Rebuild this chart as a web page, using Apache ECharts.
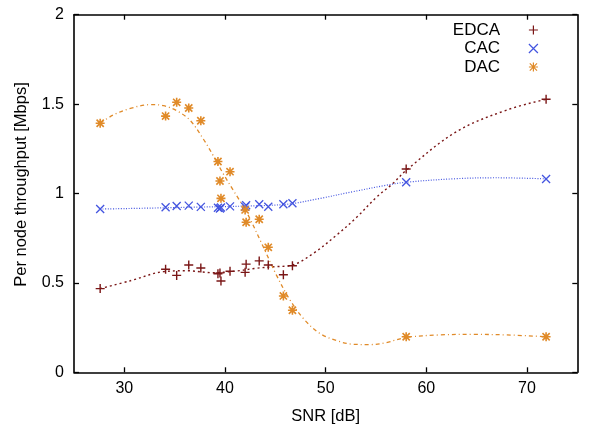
<!DOCTYPE html>
<html>
<head>
<meta charset="utf-8">
<script src="https://cdn.jsdelivr.net/npm/echarts@6/dist/echarts.min.js"></script>
<style>
html,body{margin:0;padding:0;background:#fff;}
#chart{width:589px;height:427px;}
</style>
</head>
<body>
<div id="chart"></div>
<script>
// ---- data ----
var snr = [27.6, 34.1, 35.2, 36.4, 37.6, 39.3, 39.5, 39.6, 40.5, 42.0, 42.1, 43.4, 44.3, 45.8, 46.7, 58.0, 71.9];
var edca = [0.468, 0.576, 0.542, 0.600, 0.583, 0.551, 0.556, 0.511, 0.565, 0.559, 0.605, 0.623, 0.600, 0.546, 0.596, 1.137, 1.527];
var cac  = [0.913, 0.923, 0.930, 0.932, 0.925, 0.920, 0.916, 0.922, 0.928, 0.926, 0.934, 0.940, 0.926, 0.940, 0.945, 1.063, 1.081];
var dac  = [1.393, 1.433, 1.510, 1.478, 1.407, 1.179, 1.070, 0.973, 1.122, 0.908, 0.839, 0.856, 0.699, 0.427, 0.347, 0.199, 0.199];

// fitted curves
var edcaFitX = [27.6, 30.6, 33.9, 36.2, 38.8, 41.2, 43.1, 44.8, 46.7, 48.8, 51.1, 53.1, 55.1, 56.7, 58.0, 63.0, 68.0, 71.9];
var edcaFitY = [0.468, 0.512, 0.563, 0.568, 0.557, 0.567, 0.582, 0.590, 0.600, 0.666, 0.768, 0.868, 0.982, 1.057, 1.130, 1.346, 1.467, 1.527];
var cacFitX = [27.6, 34.0, 40.0, 44.0, 46.5, 49.4, 52.7, 56.0, 58.0, 63.0, 67.0, 71.9];
var cacFitY = [0.913, 0.920, 0.927, 0.933, 0.942, 0.972, 1.010, 1.046, 1.063, 1.083, 1.088, 1.082];
var dacFitX = [27.6, 28.9, 30.6, 32.6, 33.9, 35.2, 36.5, 37.8, 38.8, 39.8, 40.8, 42.15, 43.8, 45.1, 46.4, 47.8, 49.4, 51.1, 52.7, 54.4, 56.0, 58.0, 61.3, 64.7, 68.0, 71.9];
var dacFitY = [1.393, 1.439, 1.476, 1.497, 1.491, 1.463, 1.411, 1.309, 1.215, 1.113, 1.020, 0.895, 0.702, 0.545, 0.410, 0.300, 0.218, 0.177, 0.157, 0.155, 0.166, 0.195, 0.209, 0.212, 0.209, 0.199];

var xTicks = [30, 40, 50, 60, 70];
var seriesNames = ['EDCA', 'CAC', 'DAC'];
var xName = 'SNR [dB]';
var yName = 'Per node throughput [Mbps]';

// ---- styling ----
var colors = { EDCA: '#7a1616', CAC: '#4455e0', DAC: '#e08a28' };
var symbols = {
  EDCA: 'path://M5,0L5,10M0,5L10,5',
  CAC: 'path://M0,0L10,10M0,10L10,0',
  DAC: 'path://M5,0L5,10M0,5L10,5M1,1L9,9M1,9L9,1'
};
var symSize = { EDCA: 9, CAC: 8, DAC: 9 };
var symWidth = { EDCA: 1.4, CAC: 1.3, DAC: 1.6 };
var font = 'Liberation Sans, Arial, sans-serif';

function pairs(xs, ys) { return xs.map(function (x, i) { return [x, ys[i]]; }); }

var pointSets = { EDCA: edca, CAC: cac, DAC: dac };
var fits = {
  EDCA: { d: pairs(edcaFitX, edcaFitY), type: [2, 3], w: 1.4 },
  CAC: { d: pairs(cacFitX, cacFitY), type: [1, 1.6], w: 1.2 },
  DAC: { d: pairs(dacFitX, dacFitY), type: [4, 3, 1, 3], w: 1.3 }
};

var series = [];
seriesNames.forEach(function (n) {
  series.push({
    name: n + ' fit', type: 'line', data: fits[n].d, smooth: 0.35, symbol: 'none',
    silent: true, z: 2,
    lineStyle: { color: colors[n], width: fits[n].w, type: fits[n].type }
  });
});
seriesNames.forEach(function (n) {
  series.push({
    name: n, type: 'scatter', data: pairs(snr, pointSets[n]),
    symbol: symbols[n], symbolSize: symSize[n], symbolKeepAspect: true, z: 3,
    itemStyle: { color: 'transparent', borderColor: colors[n], borderWidth: symWidth[n], opacity: 1 }
  });
});

var tickBase = { show: true, inside: true, length: 5, lineStyle: { color: '#000', width: 1.3 } };
var axisLineBase = { show: true, onZero: false, lineStyle: { color: '#000', width: 1.6 } };

var chart = echarts.init(document.getElementById('chart'), null, { renderer: 'canvas' });
chart.setOption({
  animation: false,
  backgroundColor: '#fff',
  grid: { left: 74, right: 11.7, top: 14.7, bottom: 54.7, containLabel: false, outerBoundsMode: 'none' },
  legend: {
    data: seriesNames.map(function (n) {
      return { name: n, icon: symbols[n], itemStyle: { color: 'transparent', borderColor: colors[n], borderWidth: 1.2 } };
    }),
    orient: 'vertical', align: 'right', right: 50.5, top: 21.5, padding: 0,
    itemWidth: 9, itemHeight: 9, itemGap: 1.5, selectedMode: false,
    textStyle: { fontFamily: font, fontSize: 17, color: '#000', padding: [0, 23.8, 0, 0] }
  },
  xAxis: [
    {
      type: 'value', min: 25, max: 75, position: 'bottom',
      name: xName, nameLocation: 'middle', nameGap: 36,
      nameTextStyle: { fontFamily: font, fontSize: 16.5, color: '#000' },
      axisLine: axisLineBase,
      axisTick: Object.assign({ customValues: xTicks }, tickBase),
      axisLabel: { customValues: xTicks, fontFamily: font, fontSize: 16, color: '#000', margin: 8 },
      splitLine: { show: false }
    },
    {
      type: 'value', min: 25, max: 75, position: 'top',
      axisLine: axisLineBase,
      axisTick: Object.assign({ customValues: xTicks }, tickBase),
      axisLabel: { show: false },
      splitLine: { show: false }
    }
  ],
  yAxis: [
    {
      type: 'value', min: 0, max: 2, interval: 0.5, position: 'left',
      name: yName, nameLocation: 'middle', nameGap: 44,
      nameTextStyle: { fontFamily: font, fontSize: 16.5, color: '#000', padding: [0, 0, 0, 18] },
      axisLine: axisLineBase,
      axisTick: tickBase,
      axisLabel: { fontFamily: font, fontSize: 16, color: '#000', margin: 10 },
      splitLine: { show: false }
    },
    {
      type: 'value', min: 0, max: 2, interval: 0.5, position: 'right',
      axisLine: axisLineBase,
      axisTick: tickBase,
      axisLabel: { show: false },
      splitLine: { show: false }
    }
  ],
  series: series
});
</script>
</body>
</html>
